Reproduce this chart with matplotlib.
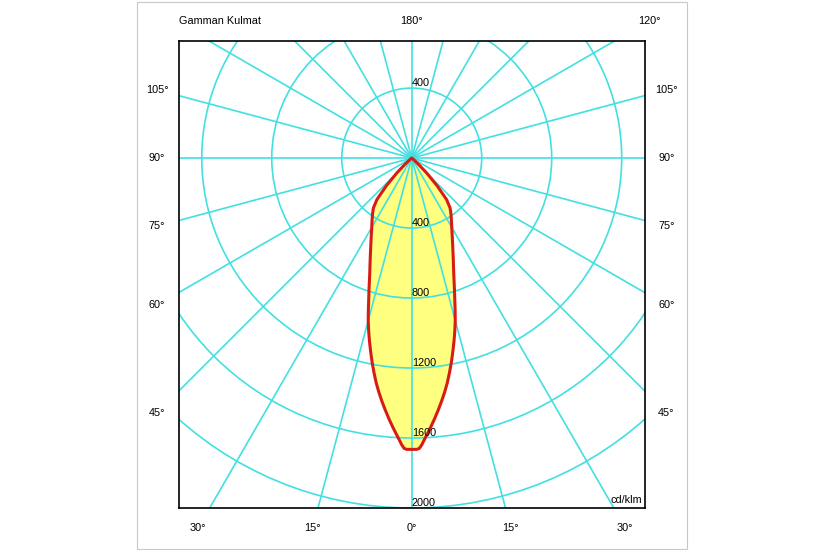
import numpy as np
import matplotlib.pyplot as plt
from matplotlib.patches import Circle, Rectangle, Polygon

plt.rcParams['font.family'] = ['Liberation Sans', 'DejaVu Sans']

# luminous intensity (cd/klm) against gamma angle
gamma = [0, 1, 1.5, 2, 2.5, 3, 4, 5, 6, 7, 8, 9, 10, 11, 12, 13, 14, 15, 16, 17, 18,
         20, 22.5, 25, 27.5, 30, 32.5, 35, 37.5, 40, 42.5, 45, 47.5, 50, 55, 60, 70, 80, 90]
intensity = [1665, 1665, 1660, 1640, 1614, 1590, 1543, 1496, 1448, 1400, 1351, 1300, 1244,
             1188, 1130, 1074, 1018, 961, 899, 841, 790,
             702, 620, 554, 501, 457, 422, 391, 360, 310, 215, 120, 50, 15, 5, 3, 1, 0, 0]

rings = [400, 800, 1200, 1600, 2000]
spokes = np.arange(0, 360, 15)
side_labels = [105, 90, 75, 60, 45]
bottom_labels = [-30, -15, 0, 15, 30]
top_label = 180
top_right_label = 120
unit = "cd/klm"
title = "Gamman Kulmat"

cyan = '#42e0e2'
fs = 7.8

fig = plt.figure(figsize=(8.25, 5.5), dpi=100)
ax = fig.add_axes([179/825, 42/550, 466/825, 467/550])
ax.set_xlim(-1330, 1333)
ax.set_ylim(-2000, 669)
ax.set_aspect('equal')
ax.set_xticks([])
ax.set_yticks([])
for s in ax.spines.values():
    s.set_linewidth(1.2)
    s.set_color('black')
    s.set_zorder(6)

# curve (symmetric, left side then right side)
g = np.radians(gamma)
I = np.array(intensity, dtype=float)
xl = -I[::-1] * np.sin(g[::-1])
yl = -I[::-1] * np.cos(g[::-1])
xr = I * np.sin(g)
yr = -I * np.cos(g)
pts = np.column_stack([np.concatenate([xl, xr[1:]]), np.concatenate([yl, yr[1:]])])
ax.add_patch(Polygon(pts, closed=True, fc='#ffff80', ec='none', zorder=1))

# grid
for r in rings:
    ax.add_patch(Circle((0, 0), r, fill=False, ec=cyan, lw=1.2, zorder=2))
for a in spokes:
    t = np.radians(a)
    ax.plot([0, 4000*np.sin(t)], [0, -4000*np.cos(t)], color=cyan, lw=1.2, zorder=2)

ax.add_patch(Polygon(pts, closed=True, fill=False, ec='#d81c14', lw=2.2,
                     joinstyle='round', zorder=3))

# intensity labels
ax.text(0, 400, "400", fontsize=fs, ha='left', va='bottom', zorder=5)
for r in rings:
    ax.text(0, -r, str(r), fontsize=fs, ha='left', va='bottom', zorder=5)
ax.text(1318, -1985, unit, fontsize=fs, ha='right', va='bottom', zorder=5)

# angle labels, placed on the rays extended to an outer frame
lab_x, lab_top, lab_bot = 1455, 783, -2114
for a in side_labels:
    y = -lab_x / np.tan(np.radians(a)) if a != 90 else 0
    ax.text(-lab_x, y, "%d°" % a, fontsize=fs, ha='center', va='center', clip_on=False)
    ax.text(lab_x, y, "%d°" % a, fontsize=fs, ha='center', va='center', clip_on=False)
for a in bottom_labels:
    x = -lab_bot * np.tan(np.radians(a))
    ax.text(x, lab_bot, "%d°" % abs(a), fontsize=fs, ha='center', va='center', clip_on=False)
ax.text(0, lab_top, "%d°" % top_label, fontsize=fs, ha='center', va='center', clip_on=False)
ax.text(lab_top * np.tan(np.radians(180 - top_right_label)), lab_top, "%d°" % top_right_label,
        fontsize=fs, ha='center', va='center', clip_on=False)
ax.text(-1330, lab_top, title, fontsize=fs, ha='left', va='center', clip_on=False)

fig.patches.append(Rectangle((137/825, 1/550), 550/825, 547/550, transform=fig.transFigure,
                             fill=False, ec='#c8c8c8', lw=0.8))

fig.savefig('out.png', dpi=100)
